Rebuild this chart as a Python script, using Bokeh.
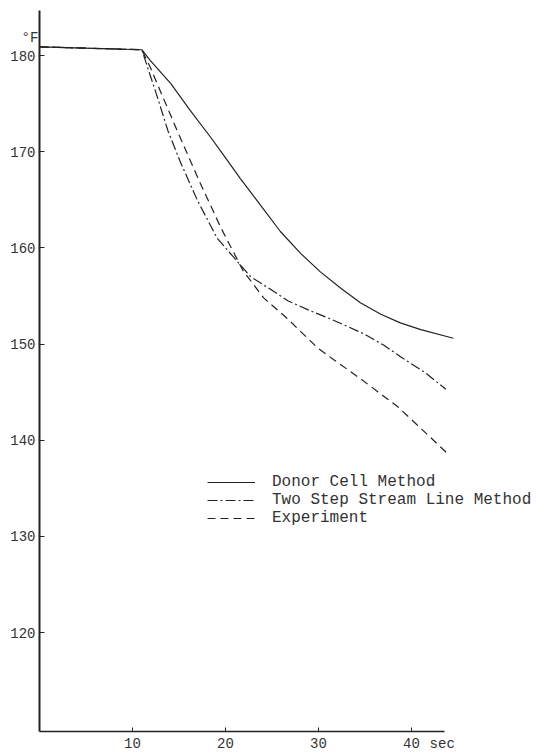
from bokeh.plotting import figure
from bokeh.models import FixedTicker, Label, Legend, LegendItem, Range1d
from bokeh.embed import file_html
from bokeh.resources import INLINE

# ---- data ----
x_ticks = [10, 20, 30, 40]
y_ticks = [120, 130, 140, 150, 160, 170, 180]

donor_t = [0, 11, 11.9, 14.1, 16.2, 18.4, 19.6, 21.6, 23.8, 25.9, 28.1, 30.2, 32.4, 34.5, 36.7, 38.8, 41.0, 44.5]
donor_T = [180.9, 180.6, 179.5, 177.1, 174.3, 171.5, 169.9, 167.2, 164.4, 161.7, 159.4, 157.5, 155.8, 154.3, 153.1, 152.2, 151.5, 150.6]

twostep_t = [0, 11, 12.7, 13.8, 15.2, 17.0, 19.1, 20.9, 22.7, 24.5, 26.7, 29.0, 31.3, 34.8, 37.0, 39.1, 41.5, 43.7]
twostep_T = [180.9, 180.6, 175.6, 172.2, 168.8, 164.9, 161.0, 159.0, 157.0, 155.9, 154.5, 153.5, 152.6, 151.1, 149.9, 148.5, 147.0, 145.3]

exp_t = [0, 11, 11.9, 13.3, 14.8, 16.2, 17.3, 19.5, 21.9, 24.1, 26.7, 29.9, 31.6, 34.5, 38.5, 41.7, 44.0]
exp_T = [180.9, 180.6, 178.8, 175.6, 172.2, 169.1, 166.7, 162.1, 157.6, 154.8, 152.6, 149.6, 148.4, 146.4, 143.5, 140.6, 138.5]

series_names = ["Donor Cell Method", "Two Step Stream Line Method", "Experiment"]
unit_label = "°F"
time_label = "sec"

# axis extents drawn in the reference
X_AXIS_END = 43.5
Y_AXIS_MIN, Y_AXIS_MAX = 109.7, 184.7

W, H = 538, 751
FONT = "Liberation Mono"
INK = "#222222"
TXT = "#333333"

p = figure(width=W, height=H,
           x_range=Range1d(-4.194, 53.656), y_range=Range1d(107.63, 185.72),
           output_backend="svg", toolbar_location=None,
           min_border=0, min_border_left=0, min_border_right=0,
           min_border_top=0, min_border_bottom=0)
p.outline_line_color = None
p.grid.visible = False

# x axis drawn inside the frame at the bottom of the temperature scale
xa = p.xaxis[0]
xa.fixed_location = Y_AXIS_MIN
xa.ticker = FixedTicker(ticks=x_ticks)
xa.bounds = (0, X_AXIS_END)
xa.major_tick_in = 4
xa.major_tick_out = 0
xa.minor_tick_line_color = None
xa.axis_line_width = 1.5
xa.axis_line_color = INK
xa.major_tick_line_color = INK
xa.major_label_standoff = 6
xa.major_label_text_font = FONT
xa.major_label_text_font_size = "14px"
xa.major_label_text_color = TXT

# y axis at t = 0
ya = p.yaxis[0]
ya.fixed_location = 0
ya.ticker = FixedTicker(ticks=y_ticks)
ya.bounds = (Y_AXIS_MIN, Y_AXIS_MAX)
ya.major_tick_in = 5
ya.major_tick_out = 0
ya.minor_tick_line_color = None
ya.axis_line_width = 2
ya.axis_line_color = INK
ya.major_tick_line_color = INK
ya.major_label_standoff = 4
ya.major_label_text_font = FONT
ya.major_label_text_font_size = "14px"
ya.major_label_text_color = TXT

r1 = p.line(donor_t, donor_T, line_color=INK, line_width=1.2)
r2 = p.line(twostep_t, twostep_T, line_color=INK, line_width=1.2, line_dash="10 3 2 3")
r3 = p.line(exp_t, exp_T, line_color=INK, line_width=1.2, line_dash="8 5")

legend = Legend(items=[LegendItem(label=series_names[0], renderers=[r1]),
                       LegendItem(label=series_names[1], renderers=[r2]),
                       LegendItem(label=series_names[2], renderers=[r3])],
                location=(207, 224), glyph_width=48, glyph_height=18, label_height=18,
                label_standoff=17, spacing=0, padding=0, margin=0,
                border_line_color=None, background_fill_alpha=0,
                label_text_font=FONT, label_text_font_size="16px",
                label_text_color=TXT)
p.add_layout(legend)

p.add_layout(Label(x=0, y=y_ticks[-1], x_offset=-18, y_offset=18, text=unit_label,
                   text_font=FONT, text_font_size="14px", text_color=TXT,
                   text_align="left", text_baseline="alphabetic"))
p.add_layout(Label(x=43.3, y=Y_AXIS_MIN, y_offset=-12, text=time_label,
                   text_font=FONT, text_font_size="14px", text_color=TXT,
                   text_align="center", text_baseline="middle"))

open("out.html", "w").write(file_html(p, INLINE))
